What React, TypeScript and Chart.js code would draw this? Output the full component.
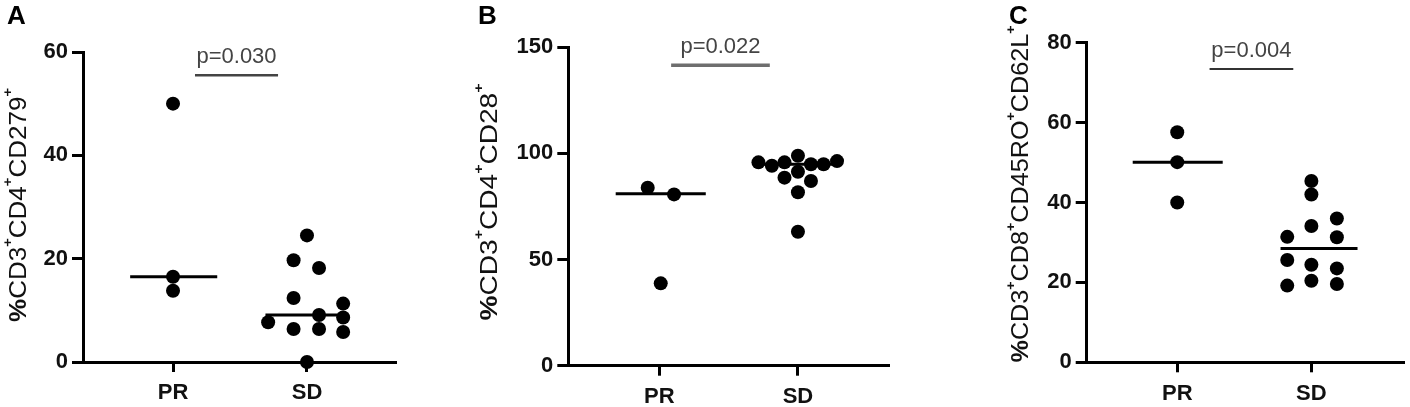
import React, { useEffect, useRef } from 'react';
import { Chart, registerables } from 'chart.js';

Chart.register(...registerables);

const FONT = "'Liberation Sans', Arial, Helvetica, sans-serif";

const groupLabels = ['PR', 'SD'];

// Panel A — %CD3+CD4+CD279+
const aTitle = '%CD3⁺CD4⁺CD279⁺';
const aPrValues = [50, 16.5, 13.8];
const aPrJitter = [0, 0, 0];
const aSdValues = [24.5, 19.7, 18.2, 12.4, 11.3, 9.1, 8.6, 7.7, 6.4, 6.4, 5.8, 0];
const aSdJitter = [0, -0.1, 0.09, -0.1, 0.27, 0.09, 0.27, -0.29, -0.1, 0.09, 0.27, 0];
const aMedians = [16.5, 9.1];
const aYTicks = [0, 20, 40, 60];
const aPLabel = 'p=0.030';
const aBracket = [1.164, 1.784, 55.5];

// Panel B — %CD3+CD4+CD28+
const bTitle = '%CD3⁺CD4⁺CD28⁺';
const bPrValues = [83.8, 80.7, 38.8];
const bPrJitter = [-0.084, 0.106, 0.01];
const bSdValues = [95.8, 94.2, 95.8, 98.9, 91.4, 94.9, 94.9, 96.4, 88.6, 87.0, 81.7, 63.1];
const bSdJitter = [-0.285, -0.188, -0.097, 0, 0, 0.094, 0.185, 0.282, -0.097, 0.094, 0, 0];
const bMedians = [81.0, 94.9];
const bYTicks = [0, 50, 100, 150];
const bPLabel = 'p=0.022';
const bBracket = [1.085, 1.797, 141.6];

// Panel C — %CD3+CD8+CD45RO+CD62L+
const cTitle = '%CD3⁺CD8⁺CD45RO⁺CD62L⁺';
const cPrValues = [57.6, 50.1, 40.0];
const cPrJitter = [0, 0, 0];
const cSdValues = [45.4, 42.0, 34.1, 36.0, 31.4, 31.3, 25.6, 24.4, 23.5, 20.4, 19.2, 19.6];
const cSdJitter = [0, 0, 0, 0.19, -0.18, 0.19, -0.18, 0, 0.19, 0, -0.18, 0.19];
const cMedians = [50.1, 28.5];
const cYTicks = [0, 20, 40, 60, 80];
const cPLabel = 'p=0.004';
const cBracket = [1.241, 1.865, 73.4];

type PanelCfg = {
  letter: string;
  title: string;
  prValues: number[];
  prJitter: number[];
  sdValues: number[];
  sdJitter: number[];
  medians: number[];
  yTicks: number[];
  pLabel: string;
  bracket: number[];
  // layout
  offset: number;
  area: { left: number; right: number; top: number; bottom: number };
  xMin: number;
  xMax: number;
  medianSpans: number[][];
  titleX: number;
  titleY: number;
  titleLen: number;
  letterX: number;
  bracketColor: string;
  bracketWidth: number;
};

const W = 470;
const H = 407;

const panels: PanelCfg[] = [
  {
    letter: 'A', title: aTitle, prValues: aPrValues, prJitter: aPrJitter, sdValues: aSdValues, sdJitter: aSdJitter,
    medians: aMedians, yTicks: aYTicks, pLabel: aPLabel, bracket: aBracket,
    offset: 0, area: { left: 83, right: 395, top: 52, bottom: 362 }, xMin: 0.328, xMax: 2.657,
    medianSpans: [[-0.32, 0.33], [-0.31, 0.31]], titleX: 17.5, titleY: 205, titleLen: 234, letterX: 7,
    bracketColor: '#444', bracketWidth: 2.5,
  },
  {
    letter: 'B', title: bTitle, prValues: bPrValues, prJitter: bPrJitter, sdValues: bSdValues, sdJitter: bSdJitter,
    medians: bMedians, yTicks: bYTicks, pLabel: bPLabel, bracket: bBracket,
    offset: 470, area: { left: 98.3, right: 418.3, top: 47.3, bottom: 365.7 }, xMin: 0.343, xMax: 2.652,
    medianSpans: [[-0.315, 0.335], [-0.27, 0.27]], titleX: 18.3, titleY: 202, titleLen: 237, letterX: 8,
    bracketColor: '#6e6e6e', bracketWidth: 3.5,
  },
  {
    letter: 'C', title: cTitle, prValues: cPrValues, prJitter: cPrJitter, sdValues: cSdValues, sdJitter: cSdJitter,
    medians: cMedians, yTicks: cYTicks, pLabel: cPLabel, bracket: cBracket,
    offset: 940, area: { left: 146.7, right: 466.7, top: 42.7, bottom: 362.3 }, xMin: 0.325, xMax: 2.683,
    medianSpans: [[-0.332, 0.339], [-0.23, 0.344]], titleX: 80, titleY: 194, titleLen: 337, letterX: 69,
    bracketColor: '#333', bracketWidth: 2,
  },
];

function drawRichTitle(ctx: CanvasRenderingContext2D, text: string, cx: number, cy: number, len: number, size: number) {
  const runs: { type: string; s: string; w: number }[] = [];
  for (const ch of Array.from(text)) {
    const type = ch === '⁺' ? 'sup' : ch === '%' ? 'bold' : 'norm';
    const c = ch === '⁺' ? '+' : ch;
    const last = runs[runs.length - 1];
    if (last && last.type === type) last.s += c;
    else runs.push({ type, s: c, w: 0 });
  }
  const supSize = Math.round(size * 0.55);
  const fontFor = (t: string) =>
    t === 'sup' ? `bold ${supSize}px ${FONT}` : t === 'bold' ? `bold ${size}px ${FONT}` : `${size}px ${FONT}`;
  let total = 0;
  for (const r of runs) {
    ctx.font = fontFor(r.type);
    r.w = ctx.measureText(r.s).width;
    total += r.w;
  }
  const k = len / total;
  ctx.save();
  ctx.translate(cx, cy);
  ctx.rotate(-Math.PI / 2);
  ctx.scale(k, 1);
  ctx.fillStyle = '#111';
  ctx.textAlign = 'left';
  ctx.textBaseline = 'alphabetic';
  let x = -total / 2;
  const base = size * 0.358;
  for (const r of runs) {
    ctx.font = fontFor(r.type);
    const y = r.type === 'sup' ? -(size * 0.358 + 1.5) + supSize * 0.355 : base;
    ctx.fillText(r.s, x, y);
    x += r.w;
  }
  ctx.restore();
}

function Panel({ cfg }: { cfg: PanelCfg }) {
  const ref = useRef<HTMLCanvasElement>(null);
  useEffect(() => {
    const canvas = ref.current;
    if (!canvas) return;
    const pts = (vals: number[], jit: number[], g: number) => vals.map((y, i) => ({ x: g + jit[i], y }));
    const medianLine = (g: number, i: number) => ({
      data: [
        { x: g + cfg.medianSpans[i][0], y: cfg.medians[i] },
        { x: g + cfg.medianSpans[i][1], y: cfg.medians[i] },
      ],
      showLine: true,
      borderColor: '#000',
      borderWidth: 3,
      pointRadius: 0,
      clip: false as const,
    });
    const pointDs = (data: { x: number; y: number }[]) => ({
      data,
      pointRadius: 7,
      pointHoverRadius: 7,
      backgroundColor: '#000',
      borderColor: '#000',
      borderWidth: 0,
      clip: false as const,
    });

    const textPlugin = {
      id: 'panelText',
      afterDraw(chart: any) {
        const ctx: CanvasRenderingContext2D = chart.ctx;
        const xs = chart.scales.x;
        const ys = chart.scales.y;
        ctx.save();
        // panel letter
        ctx.fillStyle = '#000';
        ctx.font = `bold 26px ${FONT}`;
        ctx.textAlign = 'left';
        ctx.textBaseline = 'alphabetic';
        ctx.fillText(cfg.letter, cfg.letterX, 24);
        // p value
        const px = (xs.getPixelForValue(cfg.bracket[0]) + xs.getPixelForValue(cfg.bracket[1])) / 2;
        const py = ys.getPixelForValue(cfg.bracket[2]);
        ctx.fillStyle = '#444';
        ctx.font = `22px ${FONT}`;
        ctx.textAlign = 'center';
        ctx.fillText(cfg.pLabel, px, py - 12);
        ctx.restore();
        drawRichTitle(ctx, cfg.title, cfg.titleX, cfg.titleY, cfg.titleLen, 23);
      },
    };

    const tickFont = { family: FONT, size: 22, weight: 'bold' as const };

    const chart = new Chart(canvas, {
      type: 'scatter',
      data: {
        datasets: [
          pointDs(pts(cfg.prValues, cfg.prJitter, 1)),
          pointDs(pts(cfg.sdValues, cfg.sdJitter, 2)),
          medianLine(1, 0),
          medianLine(2, 1),
          {
            data: [
              { x: cfg.bracket[0], y: cfg.bracket[2] },
              { x: cfg.bracket[1], y: cfg.bracket[2] },
            ],
            showLine: true,
            borderColor: cfg.bracketColor,
            borderWidth: cfg.bracketWidth,
            pointRadius: 0,
            clip: false as const,
          },
        ] as any,
      },
      options: {
        animation: false,
        responsive: false,
        maintainAspectRatio: false,
        events: [],
        layout: { padding: { left: 0, right: W - cfg.area.right, top: cfg.area.top, bottom: 0 } },
        plugins: { legend: { display: false }, tooltip: { enabled: false } },
        scales: {
          x: {
            type: 'linear',
            min: cfg.xMin,
            max: cfg.xMax,
            afterFit: (s: any) => { s.height = H - cfg.area.bottom; },
            afterBuildTicks: (s: any) => { s.ticks = [{ value: 1 }, { value: 2 }]; },
            ticks: {
              callback: (v: any) => groupLabels[Math.round(Number(v)) - 1] ?? '',
              font: tickFont,
              color: '#111',
              padding: 8,
              maxRotation: 0,
              autoSkip: false,
            },
            grid: { drawOnChartArea: false, drawTicks: true, tickLength: 10, lineWidth: 3, color: '#000' },
            border: { display: true, width: 3, color: '#000' },
          },
          y: {
            type: 'linear',
            min: 0,
            max: cfg.yTicks[cfg.yTicks.length - 1],
            afterFit: (s: any) => { s.width = cfg.area.left; },
            afterBuildTicks: (s: any) => { s.ticks = cfg.yTicks.map((value) => ({ value })); },
            ticks: {
              callback: (v: any) => String(v),
              font: tickFont,
              color: '#111',
              padding: 4,
              autoSkip: false,
            },
            grid: { drawOnChartArea: false, drawTicks: true, tickLength: 11, lineWidth: 3, color: '#000' },
            border: { display: true, width: 3, color: '#000' },
          },
        },
      } as any,
      plugins: [textPlugin],
    });
    return () => chart.destroy();
  }, [cfg]);
  return (
    <canvas
      ref={ref}
      width={W}
      height={H}
      style={{ position: 'absolute', left: cfg.offset, top: 0, width: W, height: H, display: 'block' }}
    />
  );
}

export default function App() {
  return (
    <div style={{ position: 'absolute', left: 0, top: 0, width: 1410, height: 407, background: '#fff', overflow: 'hidden' }}>
      {panels.map((p) => (
        <Panel key={p.letter} cfg={p} />
      ))}
    </div>
  );
}
